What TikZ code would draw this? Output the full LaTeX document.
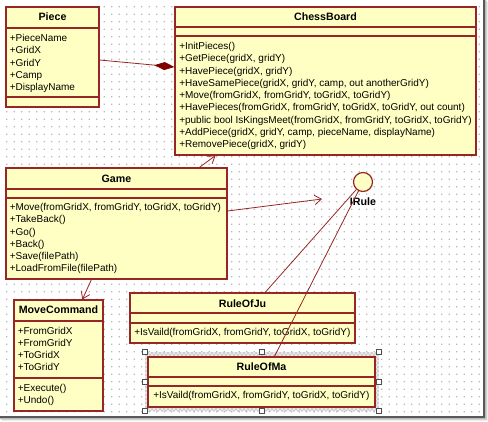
\documentclass[tikz,border=0pt]{standalone}
\usepackage{fontspec}
\setmainfont{Liberation Sans}
\usetikzlibrary{calc,fit,arrows.meta,patterns}
\definecolor{umlfill}{RGB}{255,255,196}
\definecolor{umlline}{RGB}{153,38,38}
\definecolor{umldark}{RGB}{128,0,0}
\definecolor{griddot}{RGB}{185,185,185}

\begin{document}
\begin{tikzpicture}[x=0.75pt,y=-0.75pt,font=\fontsize{7.5}{9.2}\selectfont,
  classbox/.style={draw=umlline,fill=umlfill,line width=0.9pt,inner sep=0pt},
  classline/.style={draw=umlline,line width=0.9pt},
  classname/.style={font=\fontsize{8}{9.2}\selectfont\bfseries,anchor=base,inner sep=0pt},
  members/.style={align=left,anchor=base west,inner sep=0pt},
  interface/.style={circle,draw=umlline,fill=umlfill,line width=0.9pt,minimum size=14.25pt,inner sep=0pt},
  assoc/.style={draw=umlline,line width=0.6pt,-{Straight Barb[length=5pt,width=7pt]}},
  handle/.style={draw=black!70,fill=white,line width=0.5pt,minimum size=3.75pt,inner sep=0pt}]
  \useasboundingbox (0,0) rectangle (488,421);
  % sheet with dotted grid
  \fill[white] (0,0) rectangle (488,421);
  \fill[griddot] \foreach \i in {0,...,63}{\foreach \j in {0,...,54}{(6+7.5*\i,6+7.5*\j) rectangle ++(1.3,1.3)}};
  \draw[gray!15,line width=0.75pt] (487.5,2) -- (487.5,420.5) -- (2,420.5);
  \draw[gray!35,line width=0.75pt] (486.5,1) -- (486.5,419.5) -- (1,419.5);
  \draw[gray!55,line width=0.75pt] (485.5,0) -- (485.5,418.5) -- (0,418.5);
  \draw[black!65,line width=0.9pt] (484,0) -- (484,417) -- (0,417);
  % Piece
  \node[classbox,fit={(6,7) (99,107)}] (piece) {};
  \draw[classline] (6,28) -- (99,28) (6,97) -- (99,97);
  \node[classname] (piecename) at (52.5,20.5) {Piece};
  \node[members] (piecefields) at (9.5,90.6) {+PieceName\\+GridX\\+GridY\\+Camp\\+DisplayName};
  % ChessBoard
  \node[classbox,fit={(175,7) (476,155)}] (board) {};
  \draw[classline] (175,27) -- (476,27) (175,36) -- (476,36);
  \node[classname] (boardname) at (325.5,20.5) {ChessBoard};
  \node[members] (boardmethods) at (179,147.6) {+InitPieces()\\+GetPiece(gridX, gridY)\\+HavePiece(gridX, gridY)\\+HaveSamePiece(gridX, gridY, camp, out anotherGridY)\\+Move(fromGridX, fromGridY, toGridX, toGridY)\\+HavePieces(fromGridX, fromGridY, toGridX, toGridY, out count)\\+public bool IsKingsMeet(fromGridX, fromGridY, toGridX, toGridY)\\+AddPiece(gridX, gridY, camp, pieceName, displayName)\\+RemovePiece(gridX, gridY)};
  % Game
  \node[classbox,fit={(6,168) (227,279)}] (game) {};
  \draw[classline] (6,189) -- (227,189) (6,198) -- (227,198);
  \node[classname] (gamename) at (116.5,182.1) {Game};
  \node[members] (gamemethods) at (9.5,271.9) {+Move(fromGridX, fromGridY, toGridX, toGridY)\\+TakeBack()\\+Go()\\+Back()\\+Save(filePath)\\+LoadFromFile(filePath)};
  % MoveCommand
  \node[classbox,fit={(14,300) (103,411)}] (movecmd) {};
  \draw[classline] (14,321) -- (103,321) (14,378) -- (103,378);
  \node[classname] (movecmdname) at (58.5,313.8) {MoveCommand};
  \node[members] (movecmdfields) at (17.5,370.9) {+FromGridX\\+FromGridY\\+ToGridX\\+ToGridY};
  \node[members] (movecmdmethods) at (17.5,403.6) {+Execute()\\+Undo()};
  % RuleOfJu
  \node[classbox,fit={(130,293) (355,343)}] (ruleju) {};
  \draw[classline] (130,313) -- (355,313) (130,323) -- (355,323);
  \node[classname] (rulejuname) at (242.5,307.1) {RuleOfJu};
  \node[members] (rulejumethods) at (134,335.9) {+IsVaild(fromGridX, fromGridY, toGridX, toGridY)};
  % RuleOfMa, selected
  \fill[gray!18] (145,352) rectangle (379,411);
  \fill[pattern=crosshatch dots,pattern color=gray] (145,352) rectangle (379,411);
  \node[classbox,fit={(148,357) (375,407)}] (rulema) {};
  \draw[classline] (148,377) -- (375,377) (148,386) -- (375,386);
  \node[classname] (rulemaname) at (261.5,370.5) {RuleOfMa};
  \node[members] (rulemamethods) at (153,398.6) {+IsVaild(fromGridX, fromGridY, toGridX, toGridY)};
  \foreach \hx/\hy [count=\k] in {145/352,262/352,379/352,145/381.5,379/381.5,145/411,262/411,379/411}
    \node[handle] (handle\k) at (\hx,\hy) {};
  % IRule
  \node[interface] (irule) at (363,182) {};
  \node[classname] (irulename) at (363,205.8) {IRule};
  % connectors
  \draw[umlline,line width=0.6pt] (irule) -- (ruleju);
  \draw[umlline,line width=0.6pt] (irule) -- (rulema);
  \coordinate (irulearrow) at (322,199);
  \draw[assoc] ($(game.east)+(0,-12.5)$) -- (irulearrow);
  \draw[assoc] ($(game.north west)+(194,0)$) -- ($(board.south west)+(41,0)$);
  \draw[assoc] ($(game.south west)+(86,0)$) -- ($(movecmd.north west)+(69,0)$);
  \draw[umlline,line width=0.6pt,{Diamond[length=15pt,width=6pt,umldark,fill=umldark]}-] ($(board.west)+(0,-14)$) -- ($(piece.east)+(0,3)$);
\end{tikzpicture}
\end{document}
